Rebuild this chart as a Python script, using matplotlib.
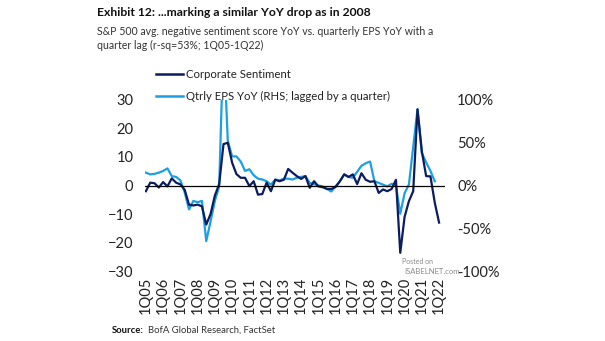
import numpy as np
import matplotlib
matplotlib.use("Agg")
import matplotlib.pyplot as plt
from matplotlib.lines import Line2D

plt.rcParams['font.family'] = ['Lato', 'DejaVu Sans']

# quarterly series, 1Q05 .. 1Q22
sentiment = [-2, 1, 0.8, -0.7, 1.2, -0.3, 2.5, 1, 0.4, -1.5,
             -6.7, -7, -6.7, -7.3, -13.7, -10, -3.5, 0.5, 14.5, 15,
             8, 4, 2.7, 2.7, -0.2, 1.5, -3.2, -3, 1, -2,
             2, 1.5, 2, 5.8, 4.5, 3.3, 2.3, 3.3, -0.8, 1.5,
             -0.3, -0.6, -1.2, -1.2, -0.5, 1.5, 3.9, 3, 3.9, 0.5,
             4.3, 2, 1.3, 1.5, -2.6, -1.4, -2, -1.2, 2, -23.6,
             -11, -5.5, -2, 26.7, 12, 3.3, 3.2, -6, -13]

# EPS YoY in %, lagged one quarter (one point shorter)
eps_yoy = [15, 13, 13.6, 15, 17, 20, 11, 10, 6, -8,
           -28, -18, -19.5, -18, -65, -42, -18, -1, 170, 52,
           34, 34, 28, 17, 19, 12, 8, 7, 5, 1,
           7, 6, 8, 8, 7, 9, 10, 11, 3, 1.5,
           0, -1, -4, -7, -1, 5, 13, 10, 9, 16,
           23, 26, 28, 5, 3, 1, -1, 2, 0, -33,
           -9, 1, 45, 89, 38, 27, 17, 5]

tick_labels = ['1Q%02d' % y for y in range(5, 23)]

navy = '#0b1d5e'
sky = '#1d9fe0'
ink = '#222222'

fig = plt.figure(figsize=(6.05, 3.41), dpi=100)
ax = fig.add_axes([0.239, 0.205, 0.496, 0.502])
ax2 = ax.twinx()

ax.plot(np.arange(len(sentiment)), sentiment, color=navy, lw=1.6, zorder=3)
ax2.plot(np.arange(len(eps_yoy)), eps_yoy, color=sky, lw=1.6, zorder=2)
ax.axhline(0, color='black', lw=0.9, zorder=4)

# sentiment line on top of the EPS line
ax.set_zorder(ax2.get_zorder() + 1)
ax.patch.set_visible(False)

ax.set_xlim(-0.3, 69.3)
ax.set_ylim(-30, 30)
ax2.set_ylim(-100, 100)

ax.set_yticks([-30, -20, -10, 0, 10, 20, 30])
ax2.set_yticks([-100, -50, 0, 50, 100])
ax2.set_yticklabels(['-100%', '-50%', '0%', '50%', '100%'])
ax.set_xticks(np.arange(0, 69, 4))
ax.set_xticklabels(tick_labels, rotation=90)

for a in (ax, ax2):
    for s in a.spines.values():
        s.set_visible(False)
ax.tick_params(axis='y', length=0, pad=8, labelsize=10.5, colors=ink)
ax2.tick_params(axis='y', length=0, pad=9, labelsize=10.5, colors=ink)
ax.tick_params(axis='x', length=0, pad=4, labelsize=10.5, colors=ink)

handles = [Line2D([], [], color=navy, lw=1.8), Line2D([], [], color=sky, lw=1.8)]
fig.legend(handles, ['Corporate Sentiment', 'Qtrly EPS YoY (RHS; lagged by a quarter)'],
           loc='upper left', bbox_to_anchor=(0.258, 0.797), frameon=False,
           fontsize=8.2, handlelength=2.4, handletextpad=0.2, labelspacing=0.9,
           borderaxespad=0, borderpad=0, labelcolor=ink)

fig.text(0.160, 0.962, 'Exhibit 12: ...marking a similar YoY drop as in 2008',
         fontsize=8.7, fontweight='bold', va='center', color='#111111')
fig.text(0.160, 0.907, 'S&P 500 avg. negative sentiment score YoY vs. quarterly EPS YoY with a',
         fontsize=7.6, va='center', color='#333333')
fig.text(0.160, 0.868, 'quarter lag (r-sq=53%; 1Q05-1Q22)',
         fontsize=7.6, va='center', color='#333333')

src = fig.text(0.185, 0.032, 'Source:', fontsize=6.8, fontweight='bold', va='center', color='#111111')
ax.annotate('BofA Global Research, FactSet', xy=(1, 0.5), xycoords=src,
            xytext=(3, 0), textcoords='offset points', fontsize=6.8,
            va='center', ha='left', color='#333333', annotation_clip=False)

fig.text(0.664, 0.232, 'Posted on', fontsize=5, color='#8a8a8a', va='center')
fig.text(0.668, 0.204, 'ISABELNET.com', fontsize=5.5, color='#8a8a8a', va='center')

fig.savefig('out.png', dpi=100, facecolor='white')
